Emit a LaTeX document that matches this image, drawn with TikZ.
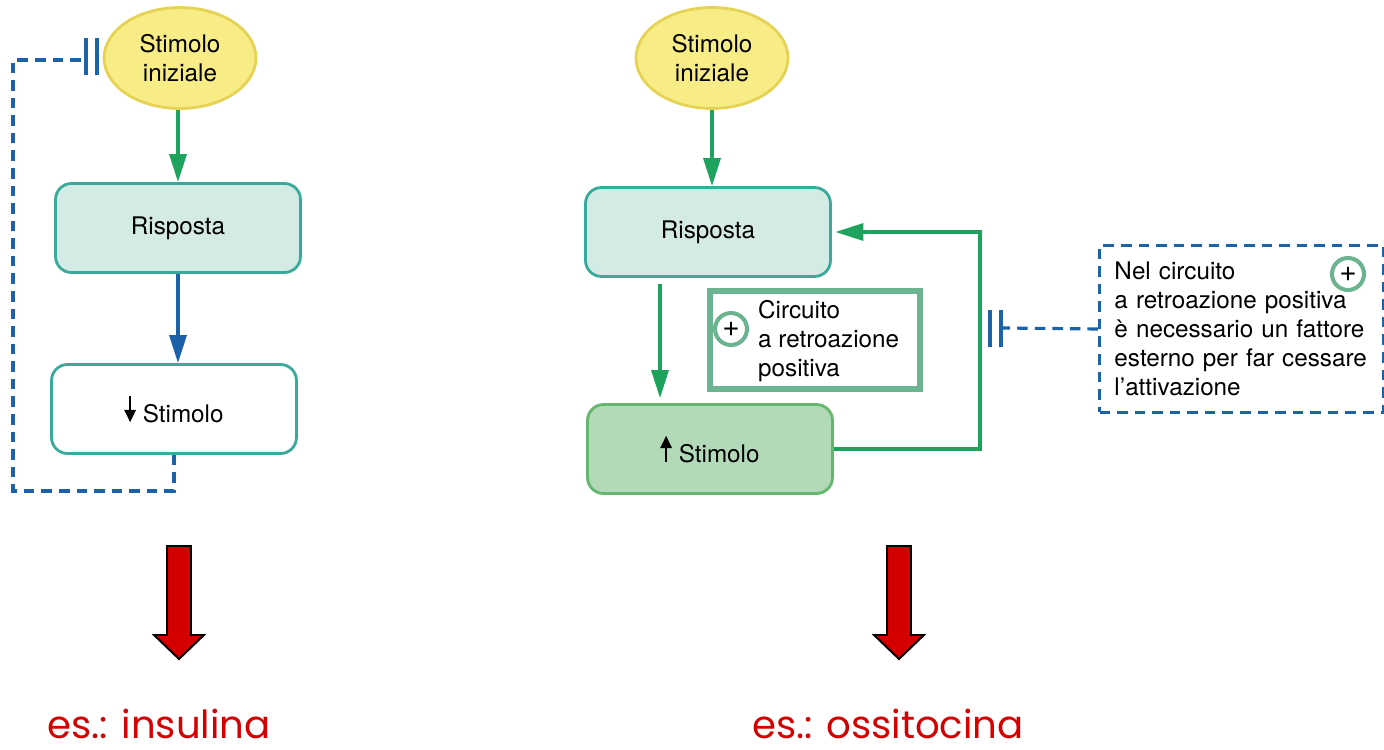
\documentclass[tikz,border=0pt]{standalone}
\usepackage{fontspec}
\setmainfont{TeX Gyre Heros}
\newfontfamily\handfont{Poppins}
\usetikzlibrary{shapes.geometric,arrows.meta}

\definecolor{stimyellow}{HTML}{F8EC86}
\definecolor{stimborder}{HTML}{E6D254}
\definecolor{rispfill}{HTML}{D4EAE4}
\definecolor{tealline}{HTML}{3AAA9B}
\definecolor{arrgreen}{HTML}{1EA35E}
\definecolor{fbblue}{HTML}{1C62A8}
\definecolor{upfill}{HTML}{B2D9B8}
\definecolor{upline}{HTML}{66B76E}
\definecolor{plusgreen}{HTML}{6CB38F}
\definecolor{esred}{HTML}{D40000}

% freccetta nel testo
\newcommand{\stimarrow}[2]{\tikz[x=1pt,y=1pt,baseline=0pt]\draw[line width=1.1pt,
    -{Triangle[length=7pt,width=6.5pt]}] (0,#1) -- (0,#2);\hspace{4pt}}

\tikzset{
  txt/.style={font=\fontsize{13.8}{16.5}\selectfont},
  stimulus/.style={txt, ellipse, draw=stimborder, line width=1.6pt, fill=stimyellow,
    minimum width=3.04cm, minimum height=2.02cm, align=center},
  respbox/.style={txt, draw=tealline, line width=1.6pt, fill=rispfill, rounded corners=0.32cm,
    minimum width=4.9cm, minimum height=1.78cm},
  lowbox/.style={respbox, fill=white},
  upbox/.style={respbox, draw=upline, fill=upfill},
  posbox/.style={draw=plusgreen, line width=3.4pt, minimum width=4.2cm, minimum height=1.96cm},
  pluscirc/.style={circle, draw=plusgreen, line width=2.3pt, fill=white, minimum size=0.64cm,
    inner sep=0pt, font=\fontsize{17}{17}\selectfont},
  notebox/.style={txt, draw=fbblue, line width=1.7pt, dash pattern=on 6pt off 4pt,
    minimum width=5.68cm, minimum height=3.34cm, text width=5.08cm, inner xsep=0.3cm, align=left},
  greenarrow/.style={draw=arrgreen, line width=1.9pt, -{Triangle[length=0.56cm,width=0.34cm]}},
  bluearrow/.style={greenarrow, draw=fbblue, fill=fbblue},
  inhibit/.style={draw=fbblue, line width=1.8pt, dash pattern=on 6pt off 4pt},
  bars/.style={draw=fbblue, line width=2pt},
  bigarrow/.style={draw=black, line width=1.1pt, fill=esred, line join=miter},
  example/.style={text=esred, font=\handfont\fontsize{22}{22}\selectfont, anchor=base, inner sep=0pt}
}

\begin{document}
\begin{tikzpicture}[x=0.02cm,y=-0.02cm]
    \useasboundingbox (0,0) rectangle (1384,750);
    % feedback negativo
    \node[stimulus] (ellL) at (180,58) {Stimolo\\iniziale};
    \node[respbox] (rispL) at (178,228) {Risposta};
    \node[lowbox] (stimL) at (174,409) {\stimarrow{15}{0}Stimolo};
    \draw[greenarrow] (ellL.south -| rispL.north) -- (rispL.north);
    \draw[bluearrow] (rispL.south) -- (rispL.south |- stimL.north);
    \coordinate (cornerL) at (13,491);
    \coordinate (barL) at (82,60);
    \draw[inhibit] (stimL.south) |- (cornerL) |- (barL);
    \draw[bars] (barL) ++(4,-22) -- ++(0,37) ++(11,0) -- ++(0,-37);
    % feedback positivo
    \node[stimulus] (ellR) at (712,58) {Stimolo\\iniziale};
    \node[respbox] (rispR) at (708,232) {Risposta};
    \node[upbox] (stimR) at (710,449) {\stimarrow{0}{15}Stimolo};
    \draw[greenarrow] (ellR.south) -- (ellR.south |- rispR.north);
    \draw[greenarrow, shorten <=0.12cm, shorten >=0.1cm]
        ([xshift=-0.96cm]rispR.south) -- ([xshift=-0.96cm]rispR.south |- stimR.north);
    \node[posbox] (circBox) at (815,340) {};
    \node[pluscirc] (plusA) at (731,329) {+};
    \node[txt, anchor=west, align=left] (circTxt) at (752,341) {Circuito\\a retroazione\\positiva};
    \coordinate (loopR) at (980,232);
    \draw[greenarrow, shorten >=2pt] (stimR.east) -| (loopR) |- (rispR.east);
    % nota
    \node[notebox, anchor=west] (note) at (1098,329) {Nel circuito\\a retroazione positiva\\è necessario un fattore\\esterno per far cessare\\l’attivazione};
    \node[pluscirc] (plusB) at (1348,274) {+};
    \coordinate (barR) at (1003,328);
    \draw[inhibit] (note.west) -- (barR);
    \draw[bars] (barR) ++(-2,-18) -- ++(0,37) ++(-11,0) -- ++(0,-37);
    % frecce rosse
    \draw[bigarrow] (179,546) ++(-12,0) -- ++(24,0) -- ++(0,89) -- ++(13,0) -- ++(-25,24)
        -- ++(-25,-24) -- ++(13,0) -- cycle;
    \draw[bigarrow] (899,546) ++(-12,0) -- ++(24,0) -- ++(0,89) -- ++(13,0) -- ++(-25,24)
        -- ++(-25,-24) -- ++(13,0) -- cycle;
    \node[example] (exL) at (159,738) {es.: insulina};
    \node[example] (exR) at (888,738) {es.: ossitocina};
\end{tikzpicture}
\end{document}
